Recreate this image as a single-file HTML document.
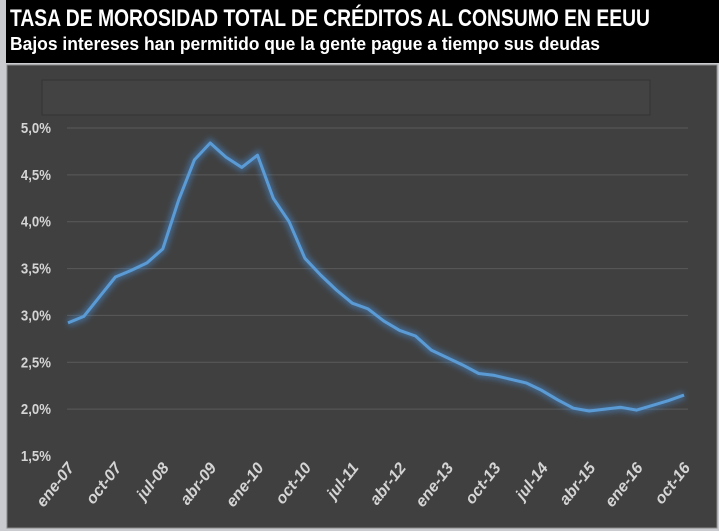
<!DOCTYPE html>
<html><head><meta charset="utf-8"><style>
body{margin:0;width:719px;height:531px;background:#c9cbce;overflow:hidden;font-family:"Liberation Sans",sans-serif}
#hdr{position:absolute;left:6px;top:0;width:713px;height:63px;background:#000}
svg{position:absolute;left:0;top:0}
</style></head><body>
<div id="hdr">
<svg width="713" height="63">
<text x="4" y="26" fill="#fff" font-weight="bold" font-size="24" textLength="640" lengthAdjust="spacingAndGlyphs">TASA DE MOROSIDAD TOTAL DE CRÉDITOS AL CONSUMO EN EEUU</text>
<text x="4" y="50" fill="#fff" font-weight="bold" font-size="18" textLength="590" lengthAdjust="spacingAndGlyphs">Bajos intereses han permitido que la gente pague a tiempo sus deudas</text>
</svg>
</div>
<svg id="c" width="719" height="531" style="top:0">
<defs><filter id="glow" x="-10%" y="-10%" width="120%" height="120%"><feGaussianBlur stdDeviation="3"/></filter></defs>
<rect x="7" y="65" width="710" height="463" fill="#404040" stroke="#888" stroke-width="1"/>
<rect x="42" y="80" width="608" height="35" fill="#434343" stroke="#333" stroke-width="1"/>
</svg>
<script>
const values=[2.92,2.99,3.2,3.41,3.48,3.56,3.71,4.23,4.66,4.84,4.69,4.58,4.71,4.25,4.0,3.61,3.43,3.27,3.13,3.07,2.94,2.84,2.78,2.63,2.55,2.47,2.38,2.36,2.32,2.28,2.2,2.1,2.01,1.98,2.0,2.02,1.99,2.04,2.09,2.15];
const yTicks=[1.5,2.0,2.5,3.0,3.5,4.0,4.5,5.0];
const xLabels=["ene-07","oct-07","jul-08","abr-09","ene-10","oct-10","jul-11","abr-12","ene-13","oct-13","jul-14","abr-15","ene-16","oct-16"];
const svg=document.getElementById('c');const NS='http://www.w3.org/2000/svg';
const x=i=>68+i*(616/(values.length-1));
const y=v=>456-(v-1.5)*(328/3.5);
function mk(t,a){const e=document.createElementNS(NS,t);for(const k in a)e.setAttribute(k,a[k]);svg.appendChild(e);return e;}
yTicks.forEach(v=>{
 if(v>1.5){const g=mk('line',{x1:67,x2:688,y1:y(v),y2:y(v),stroke:'#5a5a5a','stroke-width':1});
 
 }
 const t=mk('text',{x:51,y:y(v)+5,'text-anchor':'end',fill:'#d4d4d4','font-size':15,'font-weight':'bold',transform:`translate(51 0) scale(0.88 1) translate(-51 0)`});
 t.textContent=v.toFixed(1).replace('.',',')+'%';
 
 
});
xLabels.forEach((l,k)=>{
 const xx=x(k*3)+7,yy=468;
 const t=mk('text',{x:xx,y:yy,'text-anchor':'end',fill:'#d4d4d4','font-size':16,'font-weight':'bold','font-style':'italic',transform:`rotate(-52 ${xx} ${yy})`});
 t.textContent=l;
 
 
});
const d=values.map((v,i)=>(i?'L':'M')+x(i).toFixed(1)+' '+y(v).toFixed(1)).join(' ');
const gl=mk('path',{d:d,fill:'none',stroke:'#4a90d9','stroke-width':8,opacity:0.5,filter:'url(#glow)'});


const ln=mk('path',{d:d,fill:'none',stroke:'#5b9bd5','stroke-width':3,'stroke-linejoin':'round'});


</script>
</body></html>
